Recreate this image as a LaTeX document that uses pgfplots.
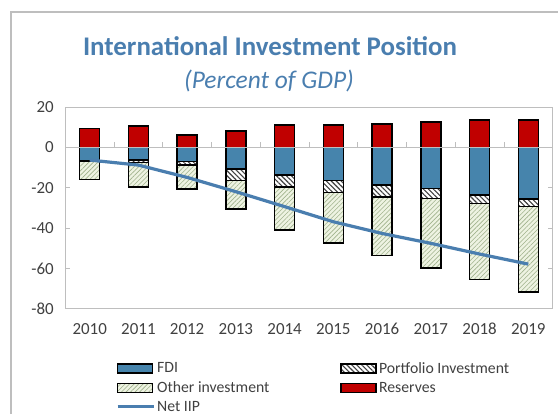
\documentclass[border=0pt]{standalone}
\usepackage{fontspec}
\setmainfont{Carlito}
\usepackage{pgfplots}
\pgfplotsset{compat=1.18}
\usetikzlibrary{patterns,patterns.meta}
\definecolor{fdiblue}{RGB}{70,132,172}
\definecolor{resred}{RGB}{192,0,0}
\definecolor{othfill}{RGB}{238,243,226}
\definecolor{othline}{RGB}{160,178,140}
\definecolor{titleblue}{RGB}{74,126,175}
\definecolor{linegray}{RGB}{190,190,190}
\definecolor{txtgray}{RGB}{64,64,64}
\tikzset{
  othstyle/.style={fill=othfill, draw=black, line width=1.6bp, postaction={pattern={Lines[angle=45,distance=3.2bp,line width=0.6bp]}, pattern color=othline}},
  portstyle/.style={fill=white, draw=black, line width=1.6bp, postaction={pattern={Lines[angle=-45,distance=3.5bp,line width=1.1bp]}, pattern color=black!75}},
  fdistyle/.style={fill=fdiblue, draw=black, line width=1.6bp},
  resstyle/.style={fill=resred, draw=black, line width=1.6bp},
}
\begin{document}
\begin{tikzpicture}[x=1bp,y=1bp]
\draw[linegray, line width=1.5bp] (11,0) -- (11,402) -- (558,402);
\node[font=\bfseries\fontsize{27}{31}\selectfont, text=titleblue] at (270,368) {International Investment Position};
\node[font=\itshape\fontsize{25.5}{29}\selectfont, text=titleblue] at (269,333) {(Percent of GDP)};
\begin{axis}[
  at={(65.3bp,105.3bp)}, anchor=south west, scale only axis,
  width=487.4bp, height=201.7bp,
  xmin=-0.5, xmax=9.5, ymin=-80, ymax=20,
  xtick={0,...,9}, xticklabels={2010,2011,2012,2013,2014,2015,2016,2017,2018,2019},
  x tick style={draw=none},
  ytick={-80,-60,...,20},
  y tick style={linegray, line width=0.8bp},
  tick align=inside, major tick length=5bp,
  axis line style={linegray, line width=0.8bp},
  ticklabel style={font=\fontsize{17}{19}\selectfont, text=txtgray},
  /pgf/number format/assume math mode=true,
  xticklabel style={yshift=-6bp},
  yticklabel style={xshift=-8bp},
  ybar, bar width=20bp, bar shift=0pt,
  legend columns=2,
  legend cell align=left,
  legend style={at={(axis description cs:0.104,-0.255)}, anchor=north west, draw=none, fill=none, inner sep=0pt,
    font=\fontsize{15.8}{18}\selectfont, text=txtgray, row sep=3bp,
    /tikz/every even column/.append style={column sep=69bp}},
]
\addlegendimage{legend image code/.code={\draw[fdistyle] (0bp,-4.5bp) rectangle (35bp,4.5bp);}}
\addlegendentry{FDI}
\addlegendimage{legend image code/.code={\draw[portstyle] (0bp,-4.5bp) rectangle (35bp,4.5bp);}}
\addlegendentry{Portfolio Investment}
\addlegendimage{legend image code/.code={\draw[othstyle] (0bp,-4.5bp) rectangle (35bp,4.5bp);}}
\addlegendentry{Other investment}
\addlegendimage{legend image code/.code={\draw[resstyle] (0bp,-4.5bp) rectangle (35bp,4.5bp);}}
\addlegendentry{Reserves}
\addlegendimage{legend image code/.code={\draw[titleblue, line width=3bp] (0bp,0bp) -- (36bp,0bp);}}
\addlegendentry{Net IIP}
% Other investment (bar bottom = total of negative components)
\addplot[othstyle, forget plot] coordinates {(0,-15.9) (1,-19.7) (2,-20.8) (3,-30.6) (4,-41.0) (5,-47.3) (6,-53.7) (7,-59.7) (8,-65.5) (9,-71.6)};
% Portfolio investment (bottom of FDI + portfolio)
\addplot[portstyle, forget plot] coordinates {(0,-6.8) (1,-7.6) (2,-8.8) (3,-16.5) (4,-19.8) (5,-22.3) (6,-24.5) (7,-25.3) (8,-27.9) (9,-29.3)};
% FDI
\addplot[fdistyle, forget plot] coordinates {(0,-6.6) (1,-6.3) (2,-7.1) (3,-10.6) (4,-13.7) (5,-16.5) (6,-18.7) (7,-20.5) (8,-23.6) (9,-25.5)};
% Reserves
\addplot[resstyle, forget plot] coordinates {(0,9.4) (1,10.6) (2,6.1) (3,8.2) (4,11.2) (5,11.1) (6,11.6) (7,12.7) (8,13.7) (9,13.7)};
% zero line with category separators
\draw[linegray, line width=0.8bp] (axis cs:-0.5,0) -- (axis cs:9.5,0);
\draw[linegray, line width=0.8bp]
  (axis cs:0.5,0) -- ([yshift=5bp]axis cs:0.5,0) (axis cs:1.5,0) -- ([yshift=5bp]axis cs:1.5,0)
  (axis cs:2.5,0) -- ([yshift=5bp]axis cs:2.5,0) (axis cs:3.5,0) -- ([yshift=5bp]axis cs:3.5,0)
  (axis cs:4.5,0) -- ([yshift=5bp]axis cs:4.5,0) (axis cs:5.5,0) -- ([yshift=5bp]axis cs:5.5,0)
  (axis cs:6.5,0) -- ([yshift=5bp]axis cs:6.5,0) (axis cs:7.5,0) -- ([yshift=5bp]axis cs:7.5,0)
  (axis cs:8.5,0) -- ([yshift=5bp]axis cs:8.5,0);
% Net IIP
\addplot[sharp plot, titleblue, line width=3.2bp, forget plot] coordinates {(0,-6.3) (1,-8.8) (2,-14.9) (3,-22.0) (4,-29.4) (5,-36.9) (6,-42.7) (7,-47.6) (8,-52.9) (9,-57.9)};
\end{axis}
\pgfresetboundingbox
\path[use as bounding box] (0,0) rectangle (558,414);
\end{tikzpicture}
\end{document}
